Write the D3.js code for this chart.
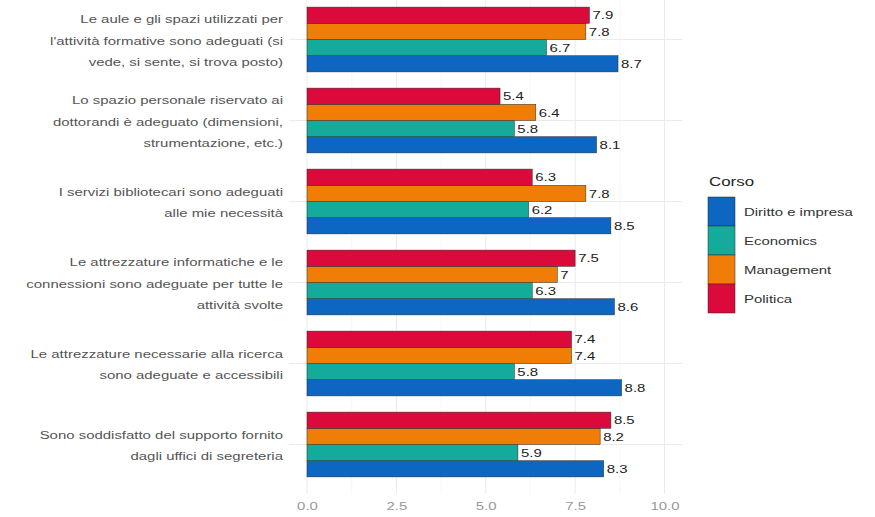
<!DOCTYPE html>
<meta charset="utf-8">
<head>
  <script src="https://d3js.org/d3.v7.min.js"></script>
  <style>
    body { margin: 0; background: #fff; }
    text { font-family: "Liberation Sans", Arial, sans-serif; }
  </style>
</head>
<body>
  <svg id="chart"></svg>
  <script>
    // questions, top to bottom (lines as they wrap on the axis)
    var questions = [
      ["Le aule e gli spazi utilizzati per", "l'attività formative sono adeguati (si", "vede, si sente, si trova posto)"],
      ["Lo spazio personale riservato ai", "dottorandi è adeguato (dimensioni,", "strumentazione, etc.)"],
      ["I servizi bibliotecari sono adeguati", "alle mie necessità"],
      ["Le attrezzature informatiche e le", "connessioni sono adeguate per tutte le", "attività svolte"],
      ["Le attrezzature necessarie alla ricerca", "sono adeguate e accessibili"],
      ["Sono soddisfatto del supporto fornito", "dagli uffici di segreteria"]
    ];
    var corsi = ["Diritto e impresa", "Economics", "Management", "Politica"];
    var diritto    = [8.7, 8.1, 8.5, 8.6, 8.8, 8.3];
    var economics  = [6.7, 5.8, 6.2, 6.3, 5.8, 5.9];
    var management = [7.8, 6.4, 7.8, 7, 7.4, 8.2];
    var politica   = [7.9, 5.4, 6.3, 7.5, 7.4, 8.5];
    var xTicks = [0, 2.5, 5, 7.5, 10];
    var colors = ["#0d66c2", "#14ab9c", "#f07d05", "#db0a3a"];

    var seriesVals = [diritto, economics, management, politica];
    var rows = [];
    questions.forEach(function(q, i) {
      corsi.forEach(function(c, j) {
        rows.push({q: i, corso: c, val: seriesVals[j][i]});
      });
    });

    var W = 875, H = 517;
    var sx = 1.3; // text in the picture is stretched sideways
    var svg = d3.select("#chart").attr("width", W).attr("height", H);

    var x = d3.scaleLinear().domain([0, 10]).range([307, 664.5]);
    var y = d3.scaleBand().domain(d3.range(questions.length))
      .range([-1, 485]).paddingInner(0.2).paddingOuter(0.1);
    // inside a group Politica is on top, Diritto at the bottom
    var ySub = d3.scaleBand().domain(corsi.slice().reverse()).range([0, y.bandwidth()]);
    var color = d3.scaleOrdinal().domain(corsi).range(colors);

    var panelL = x(-0.5), panelR = x(10.5), panelT = -2, panelB = 494;

    // grid
    var minor = [1.25, 3.75, 6.25, 8.75];
    svg.append("g").selectAll("line").data(minor).join("line")
      .attr("x1", d => x(d)).attr("x2", d => x(d))
      .attr("y1", panelT).attr("y2", panelB)
      .attr("stroke", "#f3f3f3").attr("stroke-width", 0.6);
    svg.append("g").selectAll("line").data(xTicks).join("line")
      .attr("x1", d => x(d)).attr("x2", d => x(d))
      .attr("y1", panelT).attr("y2", panelB)
      .attr("stroke", "#ebebeb").attr("stroke-width", 1);
    svg.append("g").selectAll("line").data(d3.range(questions.length)).join("line")
      .attr("x1", panelL).attr("x2", panelR)
      .attr("y1", d => y(d) + y.bandwidth() / 2).attr("y2", d => y(d) + y.bandwidth() / 2)
      .attr("stroke", "#ebebeb").attr("stroke-width", 1);

    // bars
    svg.append("g").selectAll("rect").data(rows).join("rect")
      .attr("x", x(0))
      .attr("y", d => y(d.q) + ySub(d.corso))
      .attr("width", d => x(d.val) - x(0))
      .attr("height", ySub.bandwidth())
      .attr("fill", d => color(d.corso))
      .attr("stroke", "#2a2a2a").attr("stroke-width", 0.5);

    // value labels
    svg.append("g").selectAll("text").data(rows).join("text")
      .attr("transform", d => "translate(" + (x(d.val) + 3) + "," +
        (y(d.q) + ySub(d.corso) + ySub.bandwidth() / 2) + ") scale(" + sx + ",1)")
      .attr("dy", "0.36em")
      .attr("font-size", 11.5).attr("fill", "#222")
      .text(d => String(d.val));

    // y axis labels
    var lh = 21.5;
    var yl = svg.append("g").selectAll("text").data(questions).join("text")
      .attr("transform", "translate(283,0) scale(" + sx + ",1)")
      .attr("text-anchor", "end").attr("font-size", 11.5).attr("fill", "#555");
    yl.each(function(lines, i) {
      var cy = y(i) + y.bandwidth() / 2 + 1;
      var t0 = cy - (lines.length - 1) * lh / 2;
      d3.select(this).selectAll("tspan").data(lines).join("tspan")
        .attr("x", 0).attr("y", (d, k) => t0 + k * lh).attr("dy", "0.36em")
        .text(d => d);
    });

    // x axis
    var xAxis = svg.append("g").attr("transform", "translate(0," + 499 + ")")
      .call(d3.axisBottom(x).tickValues(xTicks).tickFormat(d3.format(".1f")).tickSize(0));
    xAxis.select(".domain").remove();
    xAxis.selectAll("text").attr("font-size", 11.5).attr("fill", "#999")
      .attr("font-family", "Liberation Sans, Arial, sans-serif")
      .attr("transform", "scale(" + sx + ",1)");

    // legend
    var lg = svg.append("g");
    lg.append("text").attr("transform", "translate(709,186) scale(" + sx + ",1)")
      .attr("font-size", 13).attr("fill", "#222").text("Corso");
    var keyH = 29;
    lg.selectAll("rect").data(corsi).join("rect")
      .attr("x", 708).attr("y", (d, i) => 197 + i * keyH)
      .attr("width", 27).attr("height", keyH)
      .attr("fill", d => color(d)).attr("stroke", "#2a2a2a").attr("stroke-width", 0.5);
    lg.selectAll("text.lab").data(corsi).join("text").attr("class", "lab")
      .attr("transform", (d, i) => "translate(744," + (197 + i * keyH + keyH / 2) + ") scale(" + sx + ",1)")
      .attr("dy", "0.36em").attr("font-size", 11.5).attr("fill", "#333")
      .text(d => d);
  </script>
</body>
